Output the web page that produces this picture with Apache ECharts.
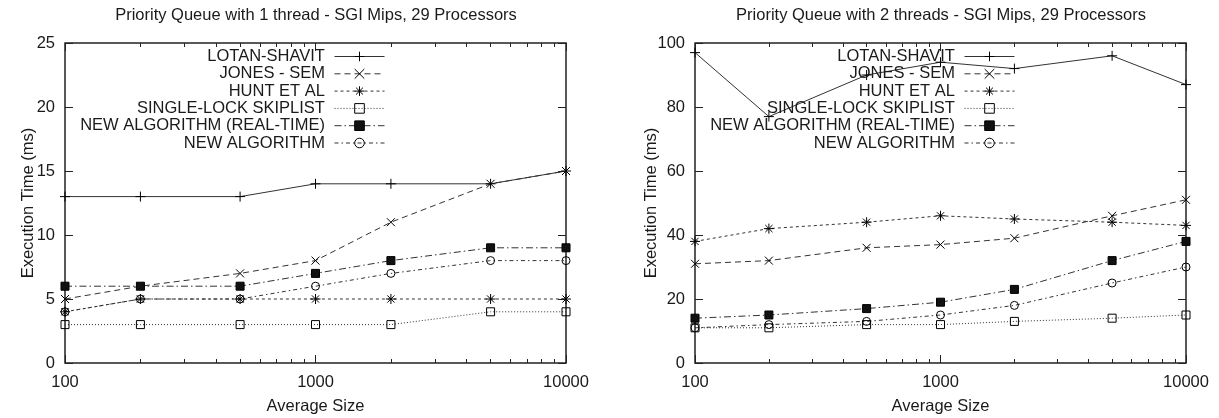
<!DOCTYPE html>
<html><head><meta charset="utf-8">
<script src="https://cdn.jsdelivr.net/npm/echarts@6/dist/echarts.min.js"></script>
<style>html,body{margin:0;padding:0;background:#fff}#c{width:1219px;height:418px}</style>
</head><body><div id="c"></div>
<script>
// ---- data ----
const sizes = [100, 200, 500, 1000, 2000, 5000, 10000];
const seriesNames = ['LOTAN-SHAVIT', 'JONES - SEM', 'HUNT ET AL', 'SINGLE-LOCK SKIPLIST', 'NEW ALGORITHM (REAL-TIME)', 'NEW ALGORITHM'];
const titles = ['Priority Queue with 1 thread - SGI Mips, 29 Processors', 'Priority Queue with 2 threads - SGI Mips, 29 Processors'];
// 1 thread
const lotan1 = [13, 13, 13, 14, 14, 14, 15];
const jones1 = [5, 6, 7, 8, 11, 14, 15];
const hunt1 = [4, 5, 5, 5, 5, 5, 5];
const skip1 = [3, 3, 3, 3, 3, 4, 4];
const newRT1 = [6, 6, 6, 7, 8, 9, 9];
const newAlg1 = [4, 5, 5, 6, 7, 8, 8];
// 2 threads
const lotan2 = [97, 77, 90, 94, 92, 96, 87];
const jones2 = [31, 32, 36, 37, 39, 46, 51];
const hunt2 = [38, 42, 44, 46, 45, 44, 43];
const skip2 = [11, 11, 12, 12, 13, 14, 15];
const newRT2 = [14, 15, 17, 19, 23, 32, 38];
const newAlg2 = [11, 12, 13, 15, 18, 25, 30];
// ticks
const xMajorTicks = [100, 1000, 10000];
const xMinorTicks = [200, 300, 400, 500, 600, 700, 800, 900, 2000, 3000, 4000, 5000, 6000, 7000, 8000, 9000];
const yTicks1 = [0, 5, 10, 15, 20, 25];
const yTicks2 = [0, 20, 40, 60, 80, 100];

// ---- style ----
const FONT = 'Liberation Sans, Arial, Helvetica, sans-serif';
const FS = 16.5;
const TXT = '#1a1a1a';
const AX = '#222';
const LINE = '#333';
const styles = [
  {symbol: 'path://M0,-5L0,5M-5,0L5,0', size: 10, fill: 'transparent', dash: 'solid'},
  {symbol: 'path://M-5,-5L5,5M-5,5L5,-5', size: 8, fill: 'transparent', dash: [6, 4]},
  {symbol: 'path://M0,-5L0,5M-5,0L5,0M-3.6,-3.6L3.6,3.6M-3.6,3.6L3.6,-3.6', size: 10, fill: 'transparent', dash: [3, 3]},
  {symbol: 'rect', size: 8, fill: 'transparent', dash: [1, 2]},
  {symbol: 'rect', size: 8, fill: '#111', dash: [7, 3, 1.5, 3]},
  {symbol: 'circle', size: 8, fill: 'transparent', dash: [4, 3, 1.5, 3]}
];
const data1 = [lotan1, jones1, hunt1, skip1, newRT1, newAlg1];
const data2 = [lotan2, jones2, hunt2, skip2, newRT2, newAlg2];

function makeSeries(vals, i, xi, yi) {
  const s = styles[i];
  return {
    name: seriesNames[i], type: 'line', xAxisIndex: xi, yAxisIndex: yi,
    data: sizes.map((x, k) => [x, vals[k]]),
    symbol: s.symbol, symbolSize: s.size, showSymbol: true,
    lineStyle: {color: LINE, width: 1, type: s.dash},
    itemStyle: {color: s.fill, borderColor: '#000', borderWidth: 1},
    emphasis: {disabled: true}, animation: false, z: 3
  };
}

const grids = [
  {left: 65, top: 43, width: 501, height: 320, show: true, borderColor: AX, borderWidth: 1.5, containLabel: false, outerBoundsMode: 'none'},
  {left: 695, top: 43, width: 491, height: 320, show: true, borderColor: AX, borderWidth: 1.5, containLabel: false, outerBoundsMode: 'none'}
];

function xAxes(gi) {
  const base = {type: 'log', logBase: 10, gridIndex: gi, min: xMajorTicks[0], max: xMajorTicks[xMajorTicks.length - 1],
    axisLine: {show: false}, splitLine: {show: false}};
  return [
    Object.assign({}, base, {position: 'bottom',
      axisTick: {show: true, inside: true, length: 8, customValues: xMajorTicks, lineStyle: {color: AX, width: 1}},
      axisLabel: {show: true, customValues: xMajorTicks, margin: 11, fontFamily: FONT, fontSize: FS, color: TXT,
        formatter: v => String(Math.round(v))},
      name: 'Average Size', nameLocation: 'middle', nameGap: 35, nameMoveOverlap: false,
      nameTextStyle: {fontFamily: FONT, fontSize: FS, color: TXT}}),
    Object.assign({}, base, {position: 'bottom',
      axisTick: {show: true, inside: true, length: 4, customValues: xMinorTicks, lineStyle: {color: AX, width: 1}},
      axisLabel: {show: false}}),
    Object.assign({}, base, {position: 'top',
      axisTick: {show: true, inside: true, length: 8, customValues: xMajorTicks, lineStyle: {color: AX, width: 1}},
      axisLabel: {show: false}}),
    Object.assign({}, base, {position: 'top',
      axisTick: {show: true, inside: true, length: 4, customValues: xMinorTicks, lineStyle: {color: AX, width: 1}},
      axisLabel: {show: false}})
  ];
}

function yAxes(gi, ticks, gap) {
  const base = {type: 'value', gridIndex: gi, min: ticks[0], max: ticks[ticks.length - 1], interval: ticks[1] - ticks[0],
    axisLine: {show: false}, splitLine: {show: false},
    axisTick: {show: true, inside: true, length: 8, lineStyle: {color: AX, width: 1}}};
  return [
    Object.assign({}, base, {position: 'left',
      axisLabel: {show: true, margin: 10, fontFamily: FONT, fontSize: FS, color: TXT},
      name: 'Execution Time (ms)', nameLocation: 'middle', nameGap: gap, nameRotate: 90, nameMoveOverlap: false,
      nameTextStyle: {fontFamily: FONT, fontSize: FS, color: TXT}}),
    Object.assign({}, base, {position: 'right', axisLabel: {show: false}})
  ];
}

function legend(rightPx) {
  return {
    orient: 'vertical', align: 'right', right: rightPx, top: 48, padding: 0,
    itemWidth: 50, itemHeight: 12, itemGap: 0.3, selectedMode: false,
    data: seriesNames,
    formatter: n => n + ' ',
    textStyle: {fontFamily: FONT, fontSize: FS, color: TXT, lineHeight: 17},
    itemStyle: {borderWidth: 1},
    lineStyle: {width: 1}
  };
}

const series = [];
data1.forEach((v, i) => series.push(makeSeries(v, i, 0, 0)));
data2.forEach((v, i) => series.push(makeSeries(v, i, 4, 2)));

const chart = echarts.init(document.getElementById('c'), null, {renderer: 'canvas'});
chart.setOption({
  animation: false,
  backgroundColor: '#fff',
  title: [
    {text: titles[0], left: 316, top: 7, textAlign: 'center', padding: 0,
      textStyle: {fontFamily: FONT, fontSize: FS, fontWeight: 'normal', color: TXT}},
    {text: titles[1], left: 941, top: 7, textAlign: 'center', padding: 0,
      textStyle: {fontFamily: FONT, fontSize: FS, fontWeight: 'normal', color: TXT}}
  ],
  legend: [legend(1219 - 385), legend(1219 - 1015)],
  grid: grids,
  xAxis: xAxes(0).concat(xAxes(1)),
  yAxis: yAxes(0, yTicks1, 28).concat(yAxes(1, yTicks2, 35)),
  series: series
});
</script></body></html>
